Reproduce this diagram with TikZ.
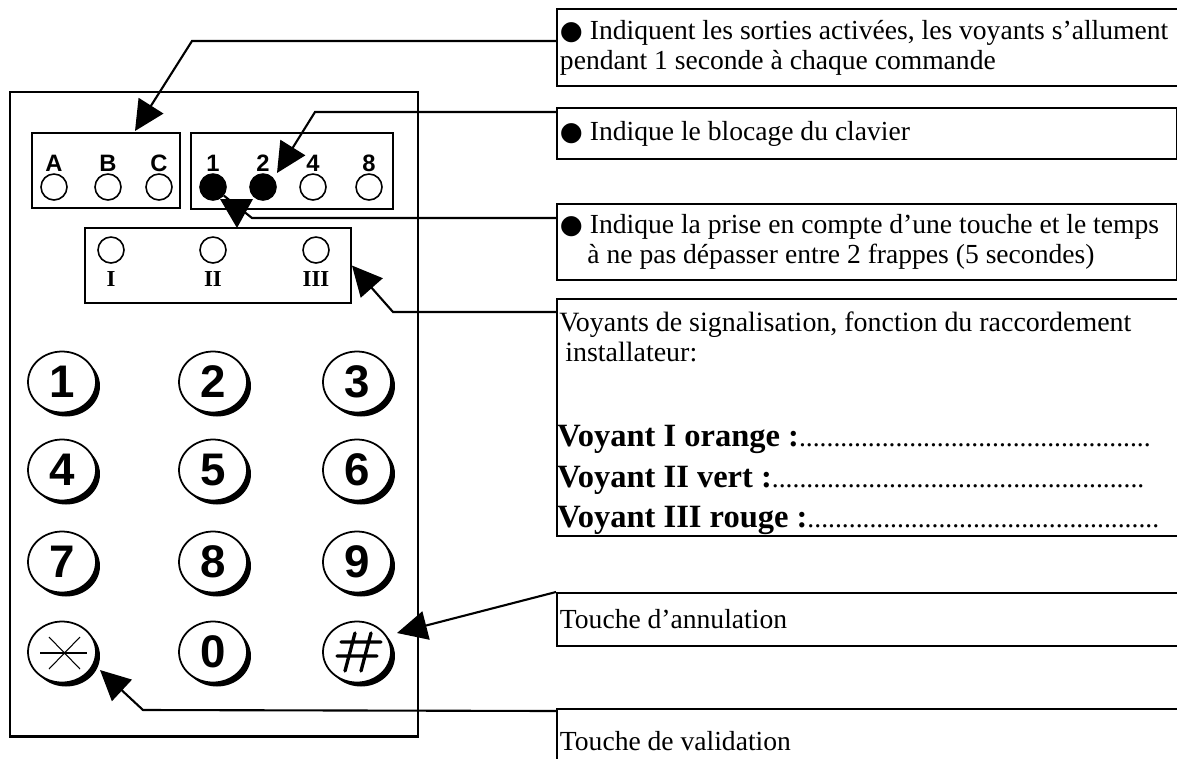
\documentclass[tikz,border=0pt]{standalone}
\usepackage{fontspec}
\setmainfont{Liberation Serif}
\newfontfamily\keyfont{Liberation Sans}
\newfontfamily\symfont{DejaVu Sans}
\usetikzlibrary{positioning, arrows.meta, shapes.geometric, shadows}

\newcommand{\puce}{{\symfont\fontsize{15}{17}\selectfont ●}}
\newcommand{\pointilles}[1]{{\mdseries\fontsize{15.7}{17}\selectfont\foreach \i in {1,...,#1}{.}}}
\newcommand{\espacesnormaux}{\spaceskip=0pt\relax\xspaceskip=0pt\relax}

\tikzset{
  panel/.style={draw, line width=1.1pt, inner sep=0pt},
  led/.style={circle, draw, line width=0.9pt, minimum size=0.52cm, inner sep=0pt},
  ledon/.style={led, fill=black},
  ledlbl/.style={font=\keyfont\bfseries\fontsize{13.5}{13.5}\selectfont, inner sep=0pt},
  romlbl/.style={font=\bfseries\fontsize{13}{13}\selectfont, inner sep=0pt},
  key/.style={ellipse, draw, line width=1pt, fill=white, minimum width=1.36cm, minimum height=1.22cm, inner sep=0pt,
    drop shadow={shadow xshift=0.08cm, shadow yshift=-0.08cm, opacity=1, fill=black},
    font=\keyfont\bfseries\fontsize{26}{26}\selectfont},
  info/.style={draw, line width=1.1pt, anchor=north west, align=flush left, text width=14cm, inner xsep=0.06cm,
    font=\fontsize{15.7}{17}\selectfont, execute at begin node=\espacesnormaux},
  txt/.style={anchor=base west, inner sep=0pt, font=\fontsize{15.9}{17}\selectfont},
  voy/.style={txt, font=\bfseries\fontsize{18.5}{18.5}\selectfont},
  conn/.style={line width=1.2pt},
}

\begin{document}
\begin{tikzpicture}[x=0.02cm, y=-0.02cm, >={Triangle[length=0.6cm, width=0.58cm]}]
\fill[white] (0,0) rectangle (1177,758);
\useasboundingbox (0,0) rectangle (1177,758);
\clip (0,0) rectangle (1177,758);

% boitier du clavier
\draw[line width=1.7pt] (10,92) rectangle (418,736);
\node[panel, minimum width=2.96cm, minimum height=1.5cm] (abc) at (106,170.5) {};
\node[panel, minimum width=4.04cm, minimum height=1.52cm] (bits) at (292,171) {};
\node[panel, minimum width=5.32cm, minimum height=1.5cm] (roman) at (218,265.5) {};

% voyants
\foreach \n/\x in {a/54, b/108, c/159, 4/313, 8/369}
  \node[led] (l\n) at (\x,187) {};
\foreach \n/\x in {1/213, 2/263}
  \node[ledon] (l\n) at (\x,187) {};
\foreach \t/\x in {A/54, B/108, C/159, 1/213, 2/263, 4/313, 8/369}
  \node[ledlbl] at (\x,163) {\t};
\foreach \n/\t/\x in {1/I/111, 2/II/213, 3/III/316} {
  \node[led] (r\n) at (\x,250) {};
  \node[romlbl] at (\x,279) {\t};
}

% touches
\foreach \n/\x/\y in {1/62/382, 2/213/382, 3/357/382, 4/62/470, 5/213/470, 6/357/470,
                      7/62/562, 8/213/562, 9/357/562, 0/213/652}
  \node[key] (k\n) at (\x,\y) {\n};
\node[key] (kstar) at (62,652) {};
\node[key] (khash) at (357,652) {};
\draw[line width=1.6pt] (40,653) -- (87,653);
\draw[line width=0.6pt] (49,637) -- (80,669) (80,637) -- (49,669);
\draw[line width=1.9pt, line cap=round] (341,642) -- (381,642) (337,656) -- (377,656)
  (355,633) -- (345,671) (371,633) -- (361,671);

% legendes
\node[info, minimum height=1.54cm] (i1) at (556,8)
  {\puce{} Indiquent les sorties activées, les voyants s’allument\\pendant 1 seconde à chaque commande};
\node[info, text width=12.28cm, minimum height=1.02cm] (i2) at (556,107)
  {\puce{} Indique le blocage du clavier};
\node[info, text width=12.28cm, minimum height=1.52cm] (i3) at (556,203)
  {\puce{} Indique la prise en compte d’une touche et le temps\\\hspace*{0.55cm}à ne pas dépasser entre 2 frappes (5 secondes)};
\node[info, minimum height=4.74cm] (i4) at (556,298) {};
\node[txt] (v0) at (559,331) {Voyants de signalisation, fonction du raccordement};
\node[txt] (v1) at (565,361) {installateur:};
\node[voy] (v2) at (557,446) {Voyant I orange :\pointilles{51}};
\node[voy] (v3) at (557,487) {Voyant II vert :\pointilles{54}};
\node[voy] (v4) at (557,527) {Voyant III rouge :\pointilles{51}};
\node[info, minimum height=1.06cm] (i5) at (556,592) {Touche d’annulation};
\node[info, minimum height=1.28cm] (i6) at (556,708) {Touche de validation};

% fleches
\coordinate (t1) at (135,131);
\coordinate (t2) at (277,173);
\coordinate (t5) at (397,633);
\coordinate (t6) at (100,670);
\draw[conn, ->] ([yshift=-0.66cm]i1.north west) -- (192,41) -- (t1);
\draw[conn, ->] ([yshift=-0.1cm]i2.north west) -- (315,112) -- (t2);
\draw[conn] ([yshift=-0.3cm]i3.north west) -- (252,218) -- (l1);
\fill (220,199) -- (253,199) -- (237,228) -- cycle;
\draw[conn, ->] ([yshift=-0.28cm]i4.north west) -- (393,312) -- (roman.east);
\draw[conn, ->] (i5.north west) -- (t5);
\draw[conn, ->] ([yshift=-0.06cm]i6.north west) -- (143,710) -- (t6);
\end{tikzpicture}
\end{document}
